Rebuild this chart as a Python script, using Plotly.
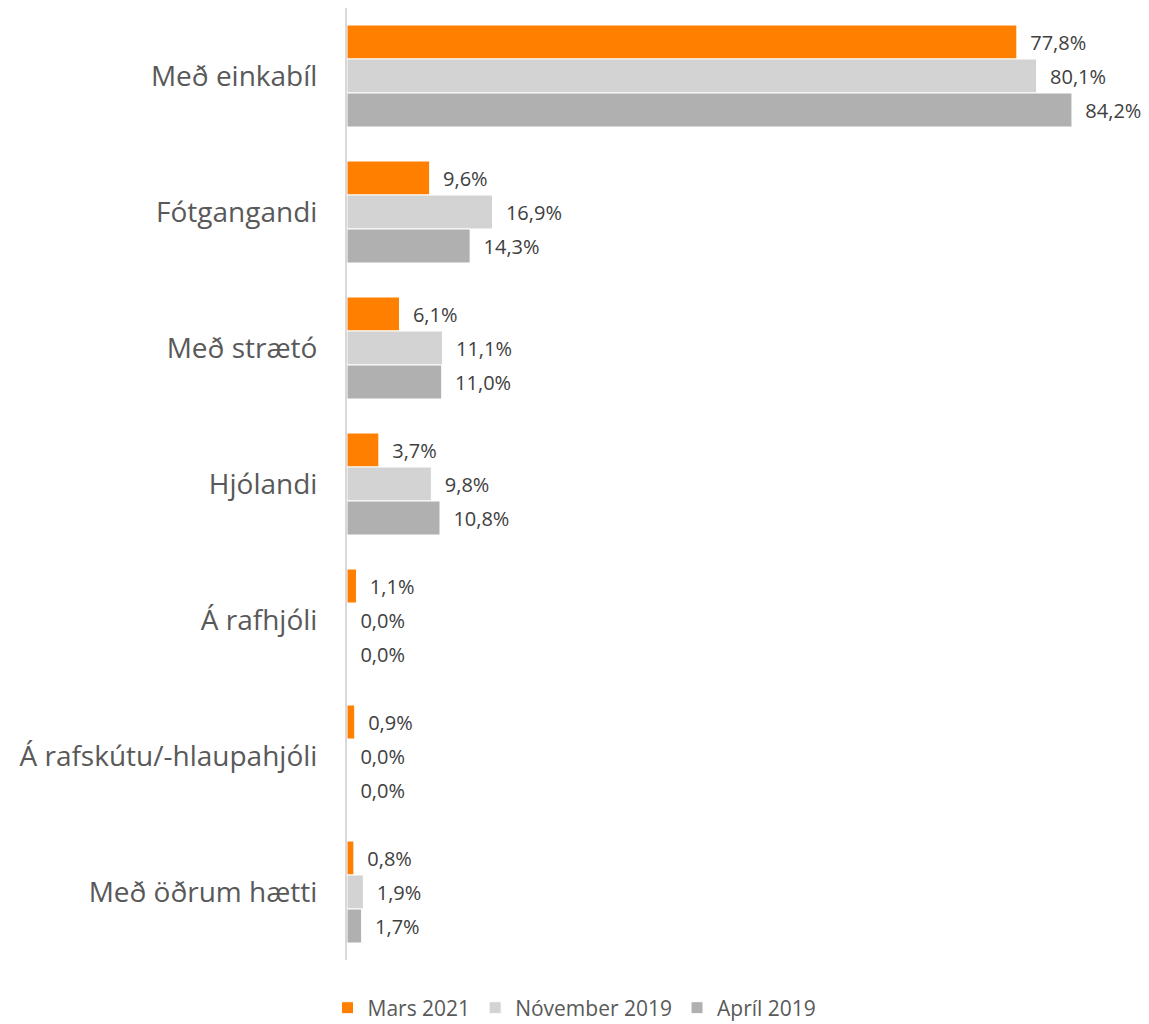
import plotly.graph_objects as go

categories = ["Með einkabíl", "Fótgangandi", "Með strætó", "Hjólandi",
              "Á rafhjóli", "Á rafskútu/-hlaupahjóli", "Með öðrum hætti"]
series_names = ["Mars 2021", "Nóvember 2019", "Apríl 2019"]
mars_2021 = [77.8, 9.6, 6.1, 3.7, 1.1, 0.9, 0.8]
nov_2019 = [80.1, 16.9, 11.1, 9.8, 0.0, 0.0, 1.9]
april_2019 = [84.2, 14.3, 11.0, 10.8, 0.0, 0.0, 1.7]
colors = ["#FF8000", "#D3D3D3", "#B0B0B0"]

# page body has an 8px margin, so the figure is drawn 8px in from the top-left
W, H = 1133, 1016
ml, mr, mt, mb = 339, 0, 0, 64
px_per_pct = 8.61
xmax = (W - ml - mr) / px_per_pct

fig = go.Figure()
for name, vals, col in zip(series_names, [mars_2021, nov_2019, april_2019], colors):
    fig.add_trace(go.Bar(
        y=categories, x=vals, name=name, orientation="h",
        marker=dict(color=col, line=dict(color="white", width=1)),
        texttemplate="  %{x:.1f}%", textposition="outside", cliponaxis=False,
        constraintext="none",
        textfont=dict(family="Open Sans", size=20, color="#404040"),
        hoverinfo="skip",
    ))

fig.update_layout(
    width=W, height=H,
    margin=dict(l=ml, r=mr, t=mt, b=mb, autoexpand=False),
    barmode="group", bargap=0.25, bargroupgap=0,
    separators=",.",
    plot_bgcolor="white", paper_bgcolor="white",
    font=dict(family="Open Sans", color="#595959"),
    showlegend=True,
    legend=dict(orientation="h", xref="container", yref="container",
                x=0.5, xanchor="center", y=0.0157, yanchor="middle",
                font=dict(size=21, color="#595959"), traceorder="normal"),
    xaxis=dict(range=[0, xmax], visible=False, showgrid=False, zeroline=False,
               automargin=False),
    yaxis=dict(autorange="reversed", showline=True, linecolor="#D9D9D9", linewidth=2,
               ticks="", showgrid=False, ticklabelstandoff=22, automargin=False,
               tickfont=dict(family="Open Sans", size=28, color="#595959")),
)

fig.write_html("out.html")
